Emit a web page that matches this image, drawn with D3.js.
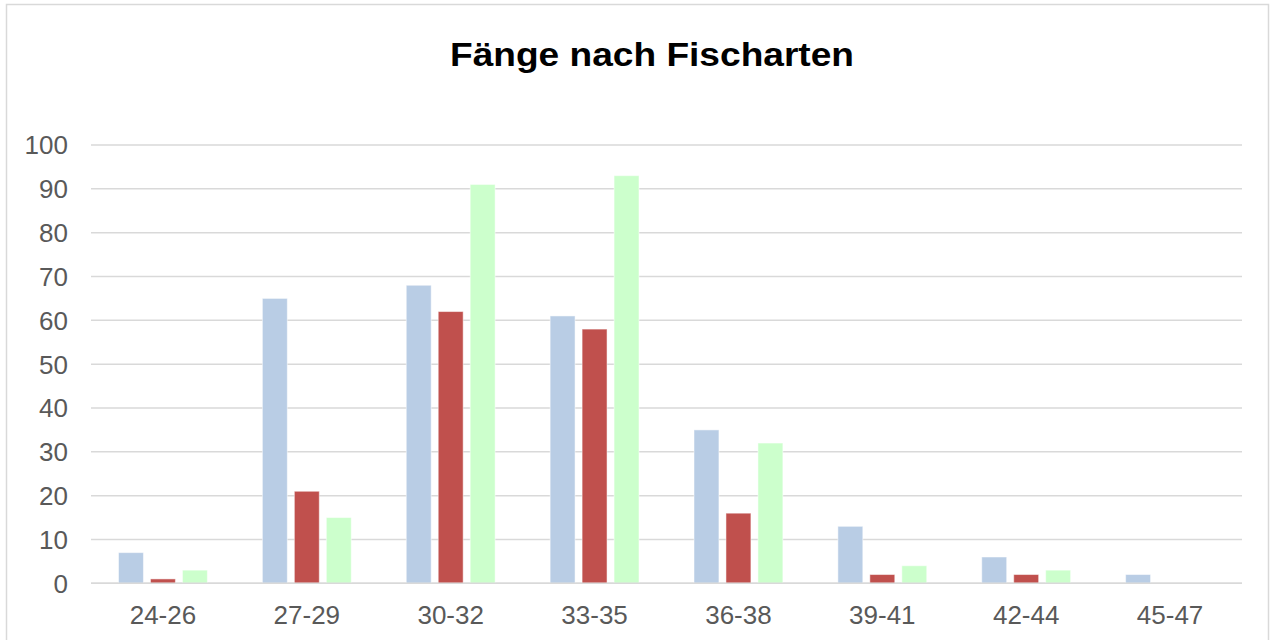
<!DOCTYPE html>
<html>
<head>
<meta charset="utf-8">
<script src="https://cdn.jsdelivr.net/npm/d3@7"></script>
<style>
  body { margin: 0; background: #fff; }
  svg { display: block; font-family: "Liberation Sans", Arial, sans-serif; }
</style>
</head>
<body>
<svg id="chart"></svg>
<script>
var categories = ["24-26", "27-29", "30-32", "33-35", "36-38", "39-41", "42-44", "45-47"];
var seriesNames = ["Serie 1", "Serie 2", "Serie 3"];
var serie1 = [7, 65, 68, 61, 35, 13, 6, 2];
var serie2 = [1, 21, 62, 58, 16, 2, 2, 0];
var serie3 = [3, 15, 91, 93, 32, 4, 3, 0];
var yTicks = [0, 10, 20, 30, 40, 50, 60, 70, 80, 90, 100];
var colors = ["#B9CDE5", "#C0504D", "#CCFFCC"];

var width = 1271;
var height = 640;
var margin = { top: 145, right: 29, bottom: 56, left: 91 };

var svg = d3.select("#chart")
    .attr("width", width)
    .attr("height", height);

// chart frame
svg.append("rect")
    .attr("x", 6.5)
    .attr("y", 4.5)
    .attr("width", 1262)
    .attr("height", 660)
    .attr("fill", "none")
    .attr("stroke", "#D9D9D9")
    .attr("stroke-width", 1.5);

svg.append("text")
    .attr("x", 652)
    .attr("y", 66)
    .attr("text-anchor", "middle")
    .attr("font-size", 34)
    .attr("font-weight", "bold")
    .attr("textLength", 404)
    .attr("lengthAdjust", "spacingAndGlyphs")
    .attr("fill", "#000")
    .text("Fänge nach Fischarten");

var x0 = d3.scaleBand()
    .domain(categories)
    .range([margin.left, width - margin.right])
    .padding(0);

var x1 = d3.scaleBand()
    .domain(seriesNames)
    .range([0, x0.bandwidth()])
    .paddingInner(0.22)
    .paddingOuter(0.86);

var y = d3.scaleLinear()
    .domain([0, 100])
    .range([height - margin.bottom - 0.7, margin.top]);

// gridlines
svg.append("g")
    .selectAll("line")
    .data(yTicks)
    .enter()
    .append("line")
    .attr("x1", margin.left)
    .attr("x2", width - margin.right)
    .attr("y1", function (d) { return y(d); })
    .attr("y2", function (d) { return y(d); })
    .attr("stroke", "#D9D9D9")
    .attr("stroke-width", 1.5);

// y labels
svg.append("g")
    .selectAll("text")
    .data(yTicks)
    .enter()
    .append("text")
    .attr("x", 68)
    .attr("y", function (d) { return y(d); })
    .attr("dy", "0.36em")
    .attr("text-anchor", "end")
    .attr("font-size", 26)
    .attr("fill", "#595959")
    .text(function (d) { return d; });

var rows = categories.map(function (c, i) {
    return { cat: c, values: [serie1[i], serie2[i], serie3[i]] };
});

var groups = svg.append("g")
    .selectAll("g")
    .data(rows)
    .enter()
    .append("g")
    .attr("transform", function (d) { return "translate(" + x0(d.cat) + ",0)"; });

groups.selectAll("rect")
    .data(function (d) {
        return d.values.map(function (v, i) { return { name: seriesNames[i], value: v, i: i }; });
    })
    .enter()
    .filter(function (d) { return d.value > 0; })
    .append("rect")
    .attr("x", function (d) { return x1(d.name); })
    .attr("y", function (d) { return y(d.value); })
    .attr("width", x1.bandwidth())
    .attr("height", function (d) { return y(0) - y(d.value); })
    .attr("fill", function (d) { return colors[d.i]; })
    .attr("stroke", "rgba(255,255,255,0.5)")
    .attr("stroke-width", 1);

// baseline on top of bars
svg.append("line")
    .attr("x1", margin.left)
    .attr("x2", width - margin.right)
    .attr("y1", y(0))
    .attr("y2", y(0))
    .attr("stroke", "#D9D9D9")
    .attr("stroke-width", 1.5);

// x labels
svg.append("g")
    .selectAll("text")
    .data(categories)
    .enter()
    .append("text")
    .attr("x", function (d) { return x0(d) + x0.bandwidth() / 2; })
    .attr("y", 624)
    .attr("text-anchor", "middle")
    .attr("font-size", 26)
    .attr("fill", "#595959")
    .text(function (d) { return d; });
</script>
</body>
</html>
